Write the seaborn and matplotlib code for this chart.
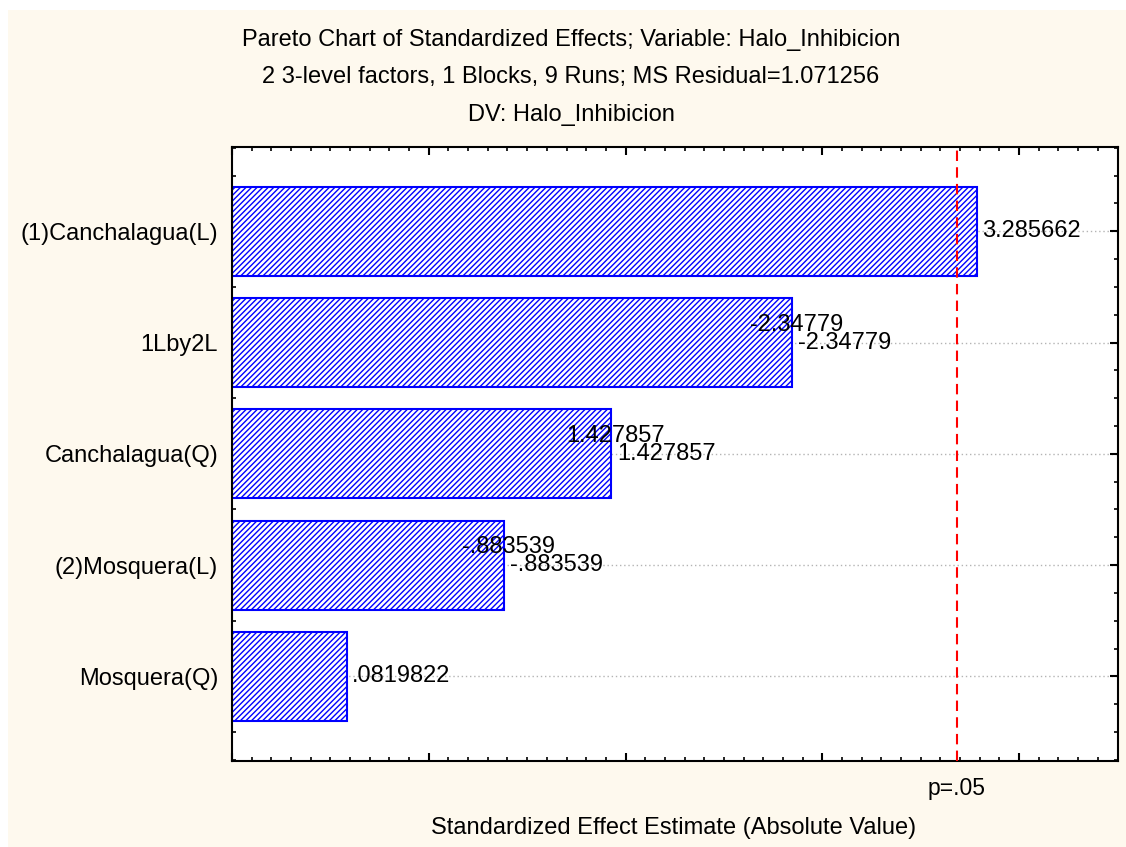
import numpy as np
import pandas as pd
import matplotlib
matplotlib.use('Agg')
import matplotlib.pyplot as plt
from matplotlib.patches import Rectangle
from matplotlib.ticker import FixedLocator, MultipleLocator, NullFormatter
import seaborn as sns

effects = ['(1)Canchalagua(L)', '1Lby2L', 'Canchalagua(Q)', '(2)Mosquera(L)', 'Mosquera(Q)']
estimates = [3.285662, -2.34779, 1.427857, -0.883539, 0.0819822]
doubled = [False, True, True, True, False]  # statistica drew these labels twice
p_crit = 3.182446
x_start = -0.5

title_lines = ['Pareto Chart of Standardized Effects; Variable: Halo_Inhibicion',
               '2 3-level factors, 1 Blocks, 9 Runs; MS Residual=1.071256',
               'DV: Halo_Inhibicion']


def fmt(v):
    s = f'{v:.7g}'
    return s.replace('-0.', '-.') if s.startswith('-0.') else (s[1:] if s.startswith('0.') else s)


sns.set_style('white')
plt.rcParams['font.family'] = ['Liberation Sans', 'DejaVu Sans']
plt.rcParams['hatch.linewidth'] = 1.0
plt.rcParams['text.color'] = 'black'
plt.rcParams['axes.labelcolor'] = 'black'
plt.rcParams['ytick.color'] = 'black'
plt.rcParams['xtick.color'] = 'black'

W, H = 1126, 847
fig = plt.figure(figsize=(W / 100, H / 100), dpi=100, facecolor='white')
fig.patches.append(Rectangle((8 / W, 0), 1, 1 - 10 / H, transform=fig.transFigure,
                             facecolor='#fef9ee', edgecolor='none', zorder=-10))
ax = fig.add_axes([232 / W, 1 - 761 / H, (1117.5 - 232) / W, (761 - 146.7) / H])
ax.set_facecolor('white')

df = pd.DataFrame({'effect': effects, 'abs_est': np.abs(estimates)})
sns.barplot(data=df, x='abs_est', y='effect', orient='h', width=0.8, color='white',
            saturation=1, edgecolor='blue', linewidth=1.5, hatch='//////', ax=ax, zorder=2)
# statistica starts the bars at the left edge of the axis
for p in ax.patches:
    p.set_width(p.get_width() - x_start)
    p.set_x(x_start)

ax.set_xlim(x_start, 4.0)
ax.set_ylim(len(effects) - 0.24, -0.76)
ax.set_axisbelow(True)
ax.grid(axis='y', which='major', color='#b4b4b4', linestyle=(0, (1, 2)), lw=1)
ax.axvline(p_crit, color='red', ls=(0, (5, 3)), lw=1.5, zorder=3)

ax.xaxis.set_major_locator(FixedLocator([-0.5, 0.5, 1.5, 2.5, 3.5]))
ax.xaxis.set_minor_locator(MultipleLocator(0.1))
ax.xaxis.set_major_formatter(NullFormatter())
ax.yaxis.set_minor_locator(MultipleLocator(0.25))
ax.tick_params(which='both', direction='in', top=True, right=True, bottom=True, left=True,
               color='black')
ax.tick_params(which='major', length=6, width=1.5)
ax.tick_params(which='minor', length=3, width=1.2)
ax.tick_params(axis='y', which='major', labelsize=17, pad=10, labelcolor='black')
for s in ax.spines.values():
    s.set_color('black')
    s.set_linewidth(1.5)
ax.set_xlabel('')
ax.set_ylabel('')

for i, (v, d) in enumerate(zip(estimates, doubled)):
    s = fmt(v)
    ax.annotate(s, xy=(abs(v), i), xytext=(4, 0), textcoords='offset points',
                ha='left', va='center', fontsize=17, zorder=4)
    if d:
        ax.annotate(s, xy=(abs(v), i), xytext=(3, 13), textcoords='offset points',
                    ha='center', va='center', fontsize=17, zorder=4)

ax.annotate('p=.05', xy=(p_crit, 0), xycoords=('data', 'axes fraction'),
            xytext=(0, -19.5), textcoords='offset points', ha='center', va='center', fontsize=16.5)
fig.text(673.5 / W, 1 - 828 / H, 'Standardized Effect Estimate (Absolute Value)',
         ha='center', va='center', fontsize=17)
for y, t in zip([40, 77, 115], title_lines):
    fig.text(571 / W, 1 - y / H, t, ha='center', va='center', fontsize=17)

fig.savefig('out.png', dpi=100, facecolor=fig.get_facecolor())
